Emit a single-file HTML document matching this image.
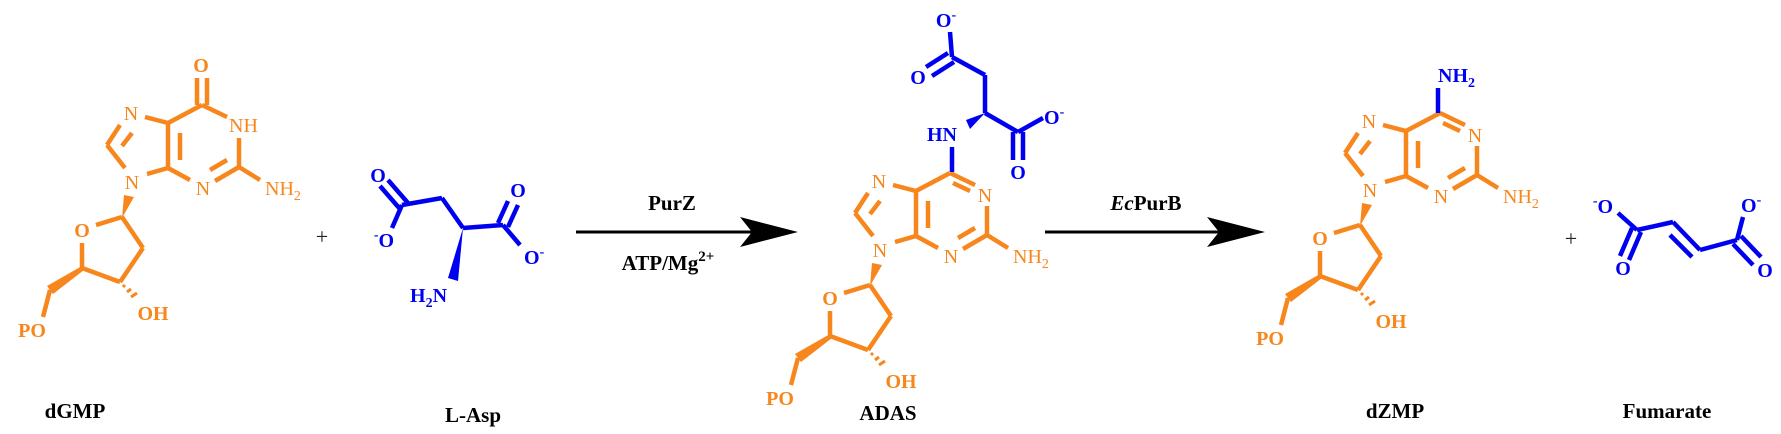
<!DOCTYPE html>
<html><head><meta charset="utf-8"><style>
html,body{margin:0;padding:0;background:#fff;}
svg{display:block;}
text{font-family:"Liberation Serif",serif;}
.o{stroke:#f7861c;stroke-width:4.5;stroke-linecap:butt;fill:none;}
.b{stroke:#0000f0;stroke-width:4.5;fill:none;}
.ot{fill:#f7861c;font-size:20px;font-weight:bold;}
.on{fill:#f7861c;font-size:20px;}
.bt{fill:#0000f0;font-size:20px;font-weight:bold;}
.k{fill:#000;font-size:21px;font-weight:bold;}
</style></head><body>
<svg width="1781" height="434" viewBox="0 0 1781 434" xmlns="http://www.w3.org/2000/svg">

<!-- dGMP -->
<g>
<g class="o">
<line x1="168" y1="123" x2="202" y2="105"/><line x1="202" y1="105" x2="227" y2="117"/>
<line x1="239" y1="138" x2="239" y2="167"/><line x1="239" y1="167" x2="260" y2="180"/>
<line x1="239" y1="167" x2="215" y2="181"/><line x1="227" y1="160" x2="210" y2="170"/>
<line x1="190" y1="180" x2="168" y2="168"/><line x1="168" y1="168" x2="168" y2="123"/>
<line x1="180" y1="133" x2="180" y2="160"/><line x1="168" y1="123" x2="145" y2="117"/>
<line x1="120" y1="125" x2="107" y2="145"/><line x1="132" y1="133" x2="122" y2="146"/>
<line x1="107" y1="145" x2="125" y2="168"/><line x1="147" y1="174" x2="168" y2="168"/>
<line x1="122" y1="217" x2="96" y2="225"/><line x1="82" y1="243" x2="82" y2="268"/>
<line x1="82" y1="268" x2="120" y2="282"/><line x1="120" y1="282" x2="143" y2="248"/>
<line x1="143" y1="248" x2="122" y2="217"/><line x1="50" y1="290" x2="43" y2="317"/>
<line x1="197" y1="78" x2="197" y2="105"/><line x1="207" y1="78" x2="207" y2="105"/>
<line x1="123" y1="287" x2="125" y2="285" stroke-width="3"/><line x1="127" y1="292" x2="131" y2="289" stroke-width="3"/><line x1="131" y1="297" x2="137" y2="293" stroke-width="3"/>
</g>
<polygon fill="#f7861c" points="124,195 134,197 122,218"/>
<polygon fill="#f7861c" points="82,266 84,270 53,294 47,286"/>
<text class="ot" x="201" y="72" text-anchor="middle">O</text>
<text class="on" x="229" y="132">NH</text>
<text class="on" x="265" y="195">NH<tspan font-size="14" dy="5">2</tspan></text>
<text class="on" x="203" y="195" text-anchor="middle">N</text>
<text class="on" x="131" y="120" text-anchor="middle">N</text>
<text class="on" x="132" y="189" text-anchor="middle">N</text>
<text class="ot" x="82" y="237" text-anchor="middle">O</text>
<text class="ot" x="153" y="320" text-anchor="middle">OH</text>
<text class="ot" x="32" y="337" text-anchor="middle">PO</text>
</g>
<text class="k" x="75" y="418" text-anchor="middle">dGMP</text>

<text x="322" y="244" font-size="22" text-anchor="middle" fill="#222">+</text>

<!-- L-Asp -->
<g class="b">
<line x1="380" y1="186" x2="400" y2="209"/><line x1="388" y1="180" x2="408" y2="203"/>
<line x1="402" y1="205" x2="392" y2="228"/><line x1="402" y1="205" x2="442" y2="198"/>
<line x1="442" y1="198" x2="463" y2="228"/><line x1="463" y1="228" x2="503" y2="225"/>
<line x1="498" y1="223" x2="508" y2="201"/><line x1="508" y1="227" x2="518" y2="205"/>
<line x1="503" y1="225" x2="520" y2="245"/>
</g>
<polygon fill="#0000f0" points="463,228 458,281 448,278"/>
<text class="bt" x="378" y="182" text-anchor="middle">O</text>
<text class="bt" x="384" y="247" text-anchor="middle"><tspan font-size="14" dy="-8">-</tspan><tspan dy="8">O</tspan></text>
<text class="bt" x="518" y="197" text-anchor="middle">O</text>
<text class="bt" x="524" y="264">O<tspan font-size="14" dy="-8">-</tspan></text>
<text class="bt" x="410" y="302">H<tspan font-size="14" dy="5">2</tspan><tspan dy="-5">N</tspan></text>
<text class="k" x="473" y="422" text-anchor="middle">L-Asp</text>

<!-- Arrow 1 -->
<line x1="576" y1="232" x2="760" y2="232" stroke="#000" stroke-width="3"/>
<polygon fill="#000" points="798,232 740,217 752,232 740,247"/>
<text class="k" x="672" y="210" text-anchor="middle" font-size="22">PurZ</text>
<text class="k" x="668" y="270" text-anchor="middle" font-size="22">ATP/Mg<tspan font-size="15" dy="-9">2+</tspan></text>

<!-- ADAS -->
<g transform="translate(748,68)">
<g class="o">
<line x1="168" y1="123" x2="202" y2="105"/><line x1="202" y1="105" x2="227" y2="117"/>
<line x1="205" y1="115" x2="222" y2="123"/>
<line x1="239" y1="138" x2="239" y2="167"/><line x1="239" y1="167" x2="260" y2="180"/>
<line x1="239" y1="167" x2="215" y2="181"/><line x1="227" y1="160" x2="210" y2="170"/>
<line x1="190" y1="180" x2="168" y2="168"/><line x1="168" y1="168" x2="168" y2="123"/>
<line x1="180" y1="133" x2="180" y2="160"/><line x1="168" y1="123" x2="145" y2="117"/>
<line x1="120" y1="125" x2="107" y2="145"/><line x1="132" y1="133" x2="122" y2="146"/>
<line x1="107" y1="145" x2="125" y2="168"/><line x1="147" y1="174" x2="168" y2="168"/>
<line x1="122" y1="217" x2="96" y2="225"/><line x1="82" y1="243" x2="82" y2="268"/>
<line x1="82" y1="268" x2="120" y2="282"/><line x1="120" y1="282" x2="143" y2="248"/>
<line x1="143" y1="248" x2="122" y2="217"/><line x1="50" y1="290" x2="43" y2="317"/>
<line x1="123" y1="287" x2="125" y2="285" stroke-width="3"/><line x1="127" y1="292" x2="131" y2="289" stroke-width="3"/><line x1="131" y1="297" x2="137" y2="293" stroke-width="3"/>
</g>
<polygon fill="#f7861c" points="124,195 134,197 122,218"/>
<polygon fill="#f7861c" points="82,266 84,270 53,294 47,286"/>
<text class="on" x="237" y="134" text-anchor="middle">N</text>
<text class="on" x="265" y="195">NH<tspan font-size="14" dy="5">2</tspan></text>
<text class="on" x="203" y="195" text-anchor="middle">N</text>
<text class="on" x="131" y="120" text-anchor="middle">N</text>
<text class="on" x="132" y="189" text-anchor="middle">N</text>
<text class="ot" x="82" y="237" text-anchor="middle">O</text>
<text class="ot" x="153" y="320" text-anchor="middle">OH</text>
<text class="ot" x="32" y="337" text-anchor="middle">PO</text>
</g>
<g class="b">
<line x1="952" y1="147" x2="952" y2="172"/>
<line x1="985" y1="113" x2="985" y2="75"/><line x1="985" y1="75" x2="952" y2="57"/>
<line x1="952" y1="57" x2="950" y2="32"/>
<line x1="948" y1="53" x2="926" y2="67"/><line x1="954" y1="62" x2="932" y2="76"/>
<line x1="985" y1="113" x2="1018" y2="132"/>
<line x1="1013" y1="132" x2="1013" y2="160"/><line x1="1023" y1="132" x2="1023" y2="160"/>
<line x1="1018" y1="132" x2="1043" y2="118"/>
</g>
<polygon fill="#0000f0" points="985,113 966,120 970,129"/>
<text class="bt" x="942" y="141" text-anchor="middle">HN</text>
<text class="bt" x="946" y="27" text-anchor="middle">O<tspan font-size="14" dy="-8">-</tspan></text>
<text class="bt" x="918" y="84" text-anchor="middle">O</text>
<text class="bt" x="1018" y="179" text-anchor="middle">O</text>
<text class="bt" x="1044" y="124">O<tspan font-size="14" dy="-8">-</tspan></text>
<text class="k" x="888" y="420" text-anchor="middle">ADAS</text>

<!-- Arrow 2 -->
<line x1="1045" y1="232" x2="1228" y2="232" stroke="#000" stroke-width="3"/>
<polygon fill="#000" points="1265,232 1207,217 1219,232 1207,247"/>
<text class="k" x="1146" y="210" text-anchor="middle" font-size="22"><tspan font-style="italic">Ec</tspan>PurB</text>

<!-- dZMP -->
<g transform="translate(1238,8)">
<g class="o">
<line x1="168" y1="123" x2="202" y2="105"/><line x1="202" y1="105" x2="227" y2="117"/>
<line x1="205" y1="115" x2="222" y2="123"/>
<line x1="239" y1="138" x2="239" y2="167"/><line x1="239" y1="167" x2="260" y2="180"/>
<line x1="239" y1="167" x2="215" y2="181"/><line x1="227" y1="160" x2="210" y2="170"/>
<line x1="190" y1="180" x2="168" y2="168"/><line x1="168" y1="168" x2="168" y2="123"/>
<line x1="180" y1="133" x2="180" y2="160"/><line x1="168" y1="123" x2="145" y2="117"/>
<line x1="120" y1="125" x2="107" y2="145"/><line x1="132" y1="133" x2="122" y2="146"/>
<line x1="107" y1="145" x2="125" y2="168"/><line x1="147" y1="174" x2="168" y2="168"/>
<line x1="122" y1="217" x2="96" y2="225"/><line x1="82" y1="243" x2="82" y2="268"/>
<line x1="82" y1="268" x2="120" y2="282"/><line x1="120" y1="282" x2="143" y2="248"/>
<line x1="143" y1="248" x2="122" y2="217"/><line x1="50" y1="290" x2="43" y2="317"/>
<line x1="123" y1="287" x2="125" y2="285" stroke-width="3"/><line x1="127" y1="292" x2="131" y2="289" stroke-width="3"/><line x1="131" y1="297" x2="137" y2="293" stroke-width="3"/>
</g>
<line class="b" x1="200" y1="80" x2="200" y2="105"/>
<polygon fill="#f7861c" points="124,195 134,197 122,218"/>
<polygon fill="#f7861c" points="82,266 84,270 53,294 47,286"/>
<text class="bt" x="200" y="74">NH<tspan font-size="14" dy="5">2</tspan></text>
<text class="on" x="237" y="134" text-anchor="middle">N</text>
<text class="on" x="265" y="195">NH<tspan font-size="14" dy="5">2</tspan></text>
<text class="on" x="203" y="195" text-anchor="middle">N</text>
<text class="on" x="131" y="120" text-anchor="middle">N</text>
<text class="on" x="132" y="189" text-anchor="middle">N</text>
<text class="ot" x="82" y="237" text-anchor="middle">O</text>
<text class="ot" x="153" y="320" text-anchor="middle">OH</text>
<text class="ot" x="32" y="337" text-anchor="middle">PO</text>
</g>
<text class="k" x="1395" y="418" text-anchor="middle">dZMP</text>

<text x="1571" y="246" font-size="22" text-anchor="middle" fill="#222">+</text>

<!-- Fumarate -->
<g class="b">
<line x1="1618" y1="213" x2="1637" y2="230"/>
<line x1="1632" y1="228" x2="1620" y2="256"/><line x1="1641" y1="232" x2="1629" y2="260"/>
<line x1="1637" y1="230" x2="1673" y2="222"/><line x1="1673" y1="222" x2="1700" y2="250"/>
<line x1="1670" y1="235" x2="1692" y2="257"/>
<line x1="1700" y1="250" x2="1737" y2="240"/><line x1="1737" y1="240" x2="1743" y2="217"/>
<line x1="1733" y1="244" x2="1753" y2="265"/><line x1="1741" y1="236" x2="1761" y2="257"/>
</g>
<text class="bt" x="1603" y="213" text-anchor="middle"><tspan font-size="14" dy="-8">-</tspan><tspan dy="8">O</tspan></text>
<text class="bt" x="1623" y="275" text-anchor="middle">O</text>
<text class="bt" x="1741" y="212">O<tspan font-size="14" dy="-8">-</tspan></text>
<text class="bt" x="1765" y="277" text-anchor="middle">O</text>
<text class="k" x="1667" y="418" text-anchor="middle">Fumarate</text>
</svg>
</body></html>
